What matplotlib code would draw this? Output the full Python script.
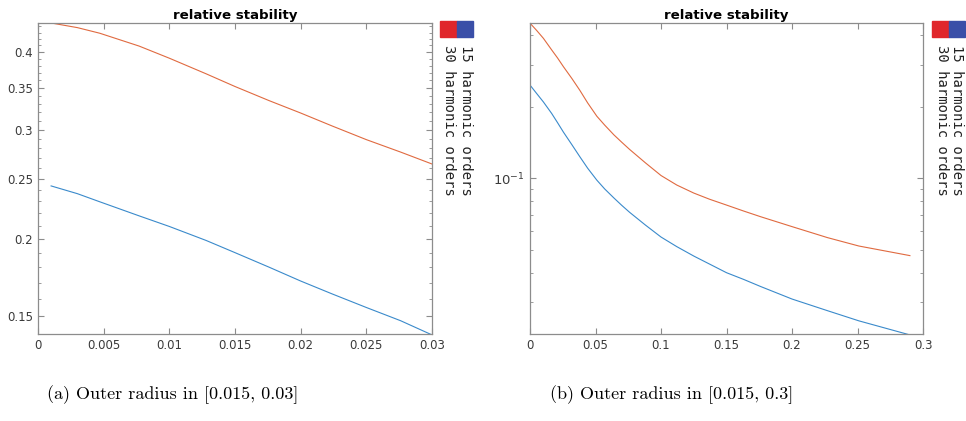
import numpy as np
import matplotlib
matplotlib.use('Agg')
from matplotlib import pyplot as plt
from matplotlib.ticker import FixedLocator, NullFormatter, FuncFormatter, LogLocator
from matplotlib.patches import Rectangle

# left panel: outer radius in [0.015, 0.03]
xa = [0.001, 0.003, 0.0047, 0.0077, 0.01, 0.0128, 0.015, 0.0176, 0.02, 0.0224, 0.025, 0.0276, 0.03]
ya_15 = [0.4456, 0.438, 0.429, 0.409, 0.391, 0.369, 0.352, 0.334, 0.319, 0.304, 0.289, 0.276, 0.264]
ya_30 = [0.2434, 0.2365, 0.2295, 0.2178, 0.2094, 0.1988, 0.190, 0.180, 0.171, 0.163, 0.155, 0.1476, 0.140]

# right panel: outer radius in [0.015, 0.3]
xb = [0, 0.005, 0.0102, 0.0165, 0.021, 0.0255, 0.032, 0.038, 0.044, 0.051, 0.057, 0.064,
      0.07, 0.076, 0.088, 0.1, 0.112, 0.125, 0.137, 0.15, 0.163, 0.176, 0.2, 0.227, 0.251, 0.29]
yb_15 = [0.448, 0.418, 0.387, 0.346, 0.320, 0.294, 0.262, 0.234, 0.207, 0.182, 0.167, 0.152,
         0.1415, 0.132, 0.116, 0.1025, 0.0935, 0.0865, 0.0815, 0.077, 0.0727, 0.0688, 0.0625,
         0.0562, 0.0518, 0.0472]
yb_30 = [0.246, 0.227, 0.209, 0.187, 0.171, 0.156, 0.138, 0.123, 0.110, 0.098, 0.090, 0.0825,
         0.0768, 0.0718, 0.0635, 0.0565, 0.0515, 0.047, 0.0435, 0.040, 0.0375, 0.035, 0.031,
         0.0277, 0.0251, 0.0219]

legend_labels = ['30 harmonic orders', '15 harmonic orders']
captions = ['(a) Outer radius in [0.015, 0.03]', '(b) Outer radius in [0.015, 0.3]']

orange = '#E06A40'
blue = '#3A8ACB'
tick_col = '#3a3a3a'

fig = plt.figure(figsize=(9.66, 4.21), dpi=100)
axL = fig.add_axes([0.0393, 0.2067, 0.408, 0.7387])
axR = fig.add_axes([0.5487, 0.2067, 0.4068, 0.7387])

for ax in (axL, axR):
    ax.set_yscale('log')
    ax.set_title('relative stability', fontsize=9.6, fontweight='bold', pad=3)
    for s in ax.spines.values():
        s.set_color('#8c8c8c')
        s.set_linewidth(0.9)
    ax.tick_params(which='both', direction='in', top=True, right=True,
                   colors='#8c8c8c', labelcolor=tick_col, labelsize=8.5)
    ax.tick_params(which='major', length=4)
    ax.tick_params(which='minor', length=2.5)

axL.plot(xa, ya_15, color=orange, lw=0.8)
axL.plot(xa, ya_30, color=blue, lw=0.8)
axL.set_xlim(0, 0.03)
axL.set_ylim(0.1405, 0.4456)
axL.set_xticks([0, 0.005, 0.01, 0.015, 0.02, 0.025, 0.03])
axL.set_xticklabels(['0', '0.005', '0.01', '0.015', '0.02', '0.025', '0.03'])
axL.yaxis.set_major_locator(FixedLocator([0.15, 0.2, 0.25, 0.3, 0.35, 0.4]))
axL.yaxis.set_major_formatter(FuncFormatter(lambda v, p: ('%g' % v)))
axL.yaxis.set_minor_locator(FixedLocator(np.round(np.arange(0.14, 0.45, 0.01), 2)))
axL.yaxis.set_minor_formatter(NullFormatter())

axR.plot(xb, yb_15, color=orange, lw=0.8)
axR.plot(xb, yb_30, color=blue, lw=0.8)
axR.set_xlim(0, 0.3)
axR.set_ylim(0.0221, 0.449)
axR.set_xticks([0, 0.05, 0.1, 0.15, 0.2, 0.25, 0.3])
axR.set_xticklabels(['0', '0.05', '0.1', '0.15', '0.2', '0.25', '0.3'])
axR.yaxis.set_major_locator(FixedLocator([0.1]))
axR.yaxis.set_major_formatter(FuncFormatter(lambda v, p: r'$10^{-1}$'))
axR.yaxis.set_minor_locator(LogLocator(base=10, subs=np.arange(2, 10)))
axR.yaxis.set_minor_formatter(NullFormatter())
axR.tick_params(axis='y', labelsize=9.5)

# rotated legends next to each panel
W, H = 966.0, 421.0
for x0, xt in [(440, (449, 466)), (932, (942, 957))]:
    fig.patches.append(Rectangle((x0 / W, 1 - 36.5 / H), 16.5 / W, 15.5 / H,
                                 transform=fig.transFigure, color='#E0262B'))
    fig.patches.append(Rectangle(((x0 + 16.5) / W, 1 - 36.5 / H), 16.5 / W, 15.5 / H,
                                 transform=fig.transFigure, color='#3A4FA8'))
    for lab, xx in zip(legend_labels, xt):
        fig.text(xx / W, 1 - 45 / H, lab, rotation=-90, ha='center', va='top',
                 family='DejaVu Sans Mono', fontsize=10, color='#222222')

fig.text(173 / W, 1 - 395 / H, captions[0], ha='center', va='center',
         family='cmr10', fontsize=13)
fig.text(672 / W, 1 - 395 / H, captions[1], ha='center', va='center',
         family='cmr10', fontsize=13)

fig.savefig('out.png', dpi=100)
